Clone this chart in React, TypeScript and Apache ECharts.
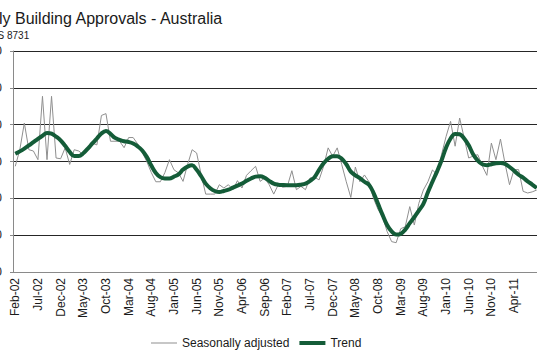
import React, { useEffect, useRef } from "react";
import * as echarts from "echarts";

// ---- data ----
const MONTH_NAMES = ["Jan", "Feb", "Mar", "Apr", "May", "Jun", "Jul", "Aug", "Sep", "Oct", "Nov", "Dec"];

const seasonallyAdjusted = [
  13740, 14640, 16090, 14640, 14570, 14100, 17540, 14100, 17540, 14190,
  14150, 14740, 13840, 14640, 14570, 14370, 14740, 15000, 14900, 16500,
  16600, 15100, 15100, 15100, 14750, 15300, 15300, 14950, 14500, 14000,
  13400, 12900, 12900, 13400, 14100, 13550, 13380, 12920, 13830, 14640,
  14460, 13280, 12230, 12230, 12230, 12740, 12560, 12740, 12470, 12960,
  12560, 13250, 13500, 13740, 12920, 13100, 12740, 12230, 12740, 12600,
  12650, 13500, 12470, 12650, 12470, 13100, 13150, 13000, 13740, 14740,
  14280, 14740, 13830, 12900, 12050, 13700, 12900, 13270, 12900, 12000,
  11400, 11000, 10200, 9650, 9590, 10350, 10460, 11550, 10550, 11730,
  12450, 12900, 13540, 13300, 14370, 15350, 16180, 14830, 16360, 15280,
  14190, 14300, 14370, 13760, 13250, 15000, 14100, 15220, 13900, 12740,
  13560, 13560, 12380, 12290, 12350, 12450,
];

const trend = [
  14420, 14550, 14700, 14870, 15050, 15230, 15400, 15550, 15510, 15350,
  15150, 14850, 14520, 14300, 14300, 14450, 14700, 14980, 15250, 15520,
  15650, 15500, 15280, 15180, 15100, 15060, 14980, 14820, 14600, 14250,
  13780, 13380, 13150, 13080, 13080, 13180, 13300, 13560, 13720, 13790,
  13550, 13200, 12800, 12550, 12400, 12340, 12400, 12470, 12580, 12690,
  12800, 12950, 13080, 13180, 13200, 13120, 12950, 12800, 12740, 12720,
  12710, 12710, 12710, 12740, 12800, 12950, 13150, 13550, 13900, 14150,
  14280, 14290, 14150, 13850, 13450, 13250, 13100, 12900, 12740, 12300,
  11700, 11100, 10550, 10200, 10030, 10070, 10300, 10650, 10980, 11330,
  11700, 12330, 12900, 13450, 14050, 14750, 15250, 15500, 15480, 15250,
  14880, 14380, 14050, 13850, 13800, 13850, 13910, 13920, 13870, 13700,
  13500, 13280, 13120, 12920, 12750, 12560,
];

// Feb-02 onwards, one category per month
const months: string[] = seasonallyAdjusted.map((_, i) => {
  const m = (1 + i) % 12;
  const y = 2002 + Math.floor((1 + i) / 12);
  return `${MONTH_NAMES[m]}-${String(y % 100).padStart(2, "0")}`;
});

const Y_MIN = 8000;
const Y_MAX = 20000;
const Y_STEP = 2000;
const LABEL_EVERY = 5;
const LAST_LABEL = "Apr-11";

const FONT = "'Liberation Sans', Arial, sans-serif";
const OFF = 60; // the reference is a crop of a larger chart

export default function App() {
  const ref = useRef<HTMLDivElement>(null);
  useEffect(() => {
    if (!ref.current) return;
    const chart = echarts.init(ref.current, undefined, { renderer: "svg" });
    const lastIdx = months.indexOf(LAST_LABEL);
    chart.setOption({
      animation: false,
      textStyle: { fontFamily: FONT },
      title: [
        {
          text: "Monthly Building Approvals - Australia",
          left: 9.5,
          top: 5,
          textStyle: { fontFamily: FONT, fontSize: 16, fontWeight: "normal", color: "#1a1a1a" },
        },
        {
          text: "Source: ABS 8731",
          left: 2.5,
          top: 25,
          textStyle: { fontFamily: FONT, fontSize: 10, fontWeight: "normal", color: "#1a1a1a" },
        },
      ],
      grid: { left: 73, top: 51, right: 21, bottom: 84 },
      legend: {
        left: 206,
        top: 332,
        itemWidth: 26,
        itemHeight: 14,
        itemGap: 10,
        textStyle: { fontFamily: FONT, fontSize: 12, color: "#1a1a1a" },
        data: [
          { name: "Seasonally adjusted", icon: "path://M0,0H26V1H0Z", itemStyle: { color: "#8f8f8f" } },
          { name: "Trend", icon: "path://M0,0H26V4H0Z", itemStyle: { color: "#145c38" } },
        ],
      },
      xAxis: {
        type: "category",
        data: months,
        boundaryGap: true,
        z: 3,
        axisLine: { lineStyle: { color: "#8a8a8a", width: 1 } },
        axisTick: {
          interval: LABEL_EVERY - 1,
          length: 4,
          lineStyle: { color: "#8a8a8a" },
        },
        axisLabel: {
          interval: (i: number) => i % LABEL_EVERY === 0 && i <= lastIdx,
          rotate: 90,
          margin: 6,
          fontSize: 12,
          fontFamily: FONT,
          color: "#1a1a1a",
        },
        splitLine: { show: false },
      },
      yAxis: {
        type: "value",
        min: Y_MIN,
        max: Y_MAX,
        interval: Y_STEP,
        axisLine: { show: true, lineStyle: { color: "#8a8a8a", width: 1 } },
        axisTick: { show: true, length: 3, lineStyle: { color: "#8a8a8a" } },
        axisLabel: {
          margin: 11,
          fontSize: 12,
          fontFamily: FONT,
          color: "#1a1a1a",
          formatter: (v: number) => v.toLocaleString("en-US"),
        },
        splitLine: { lineStyle: { color: "#262626", width: 1 } },
      },
      series: [
        {
          name: "Seasonally adjusted",
          type: "line",
          data: seasonallyAdjusted,
          symbol: "none",
          lineStyle: { color: "#8f8f8f", width: 1 },
          itemStyle: { color: "#8f8f8f" },
          z: 2,
        },
        {
          name: "Trend",
          type: "line",
          data: trend,
          symbol: "none",
          smooth: 0.4,
          lineStyle: { color: "#145c38", width: 4 },
          itemStyle: { color: "#145c38" },
          z: 3,
        },
      ],
    });
    return () => chart.dispose();
  }, []);

  return (
    <div
      style={{
        position: "fixed",
        left: 0,
        top: 0,
        width: 537,
        height: 356,
        overflow: "hidden",
        background: "#ffffff",
      }}
    >
      <div
        ref={ref}
        style={{ position: "absolute", left: -OFF, top: 0, width: 620, height: 356 }}
      />
    </div>
  );
}
